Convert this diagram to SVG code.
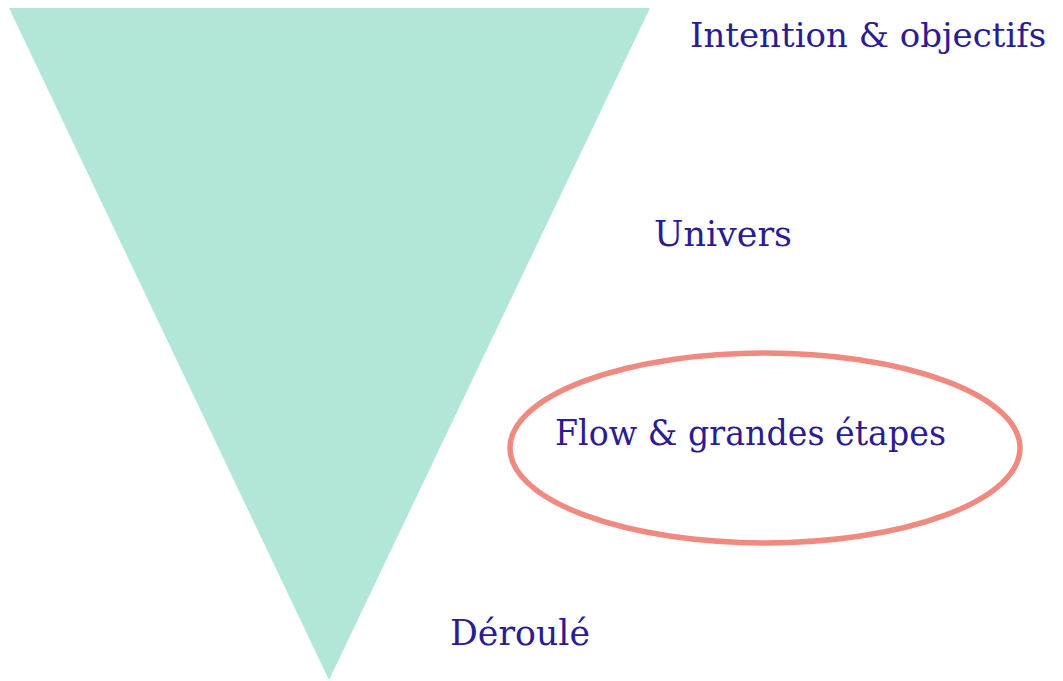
<svg xmlns="http://www.w3.org/2000/svg" width="1063" height="681" viewBox="0 0 1063 681">
<style>
.lbl{font-family:"DejaVu Serif","Liberation Serif",serif;font-size:36px;fill:#2b1c91}
</style>
<rect width="1063" height="681" fill="#ffffff"/>
<g id="funnel"><polygon points="9,8 650,8 329,680" fill="#b2e6d9"/></g>
<g id="highlight"><ellipse cx="765" cy="448" rx="255" ry="95" fill="none" stroke="#f08a80" stroke-width="5.5"/></g>
<g id="connectors"></g>
<g id="n1"><text class="lbl" x="690" y="47" style="font-size:34px">Intention &amp; objectifs</text></g>
<g id="n2"><text class="lbl" x="654" y="246" textLength="138" lengthAdjust="spacingAndGlyphs">Univers</text></g>
<g id="n3"><text class="lbl" x="555" y="445" textLength="391" lengthAdjust="spacingAndGlyphs">Flow &amp; grandes étapes</text></g>
<g id="n4"><text class="lbl" x="450" y="645" textLength="140" lengthAdjust="spacingAndGlyphs">Déroulé</text></g>
</svg>
